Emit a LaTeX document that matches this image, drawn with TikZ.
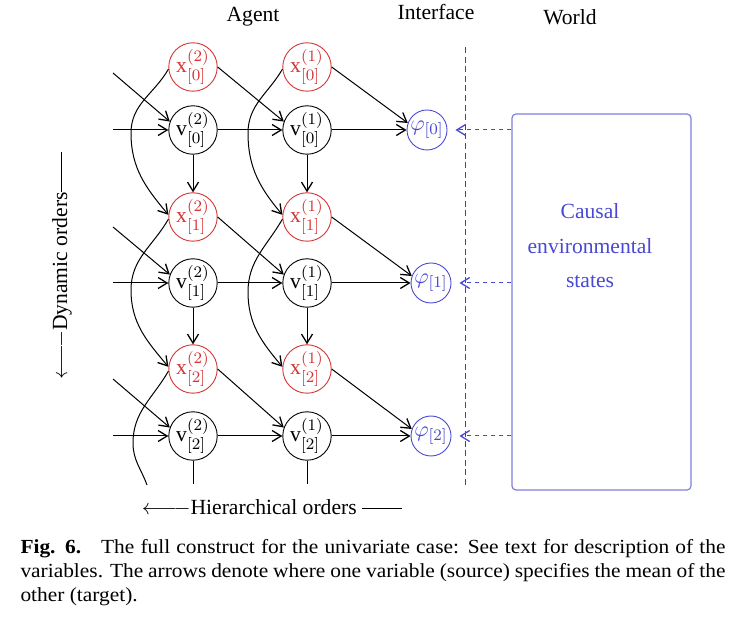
\documentclass[tikz,border=0pt]{standalone}
\usepackage{fontspec}
\setmainfont{Liberation Serif}
\newfontfamily\capfont[FakeStretch=1.07]{Liberation Serif}
\usetikzlibrary{arrows.meta}
\definecolor{xred}{RGB}{212,52,52}
\definecolor{phiblue}{RGB}{72,72,212}
\definecolor{worldblue}{RGB}{128,128,222}
\tikzset{
	unit/.style={circle,draw,minimum size=20pt,inner sep=0pt,line width=0.45pt},
	hidden/.style={unit,draw=xred,text=xred},
	cause/.style={unit},
	sense/.style={unit,draw=phiblue,text=phiblue},
	arr/.style={-{Straight Barb[length=4.5pt,width=5.5pt,line width=0.65pt]}},
	worldarr/.style={arr,phiblue,dash pattern=on 2pt off 2pt,shorten >=4pt},
	heading/.style={inner sep=0pt},
}
\begin{document}
\begin{tikzpicture}[x=0.5pt,y=-0.5pt,line width=0.5pt,font=\fontsize{10.8}{13}\selectfont]
	\useasboundingbox (0,0) rectangle (733,619);
	\node[heading] (agent) at (253,17) {Agent};
	\node[heading] (iface) at (436,12) {Interface};
	\node[heading] (worldtitle) at (570,17) {World};

	\node[hidden] (x20) at (193,67) {$\mathrm{x}^{(2)}_{[0]}$};
	\node[hidden] (x10) at (307,67) {$\mathrm{x}^{(1)}_{[0]}$};
	\node[cause] (v20) at (193,130) {$\mathrm{v}^{(2)}_{[0]}$};
	\node[cause] (v10) at (307,130) {$\mathrm{v}^{(1)}_{[0]}$};
	\node[sense] (p0) at (427,130) {$\varphi_{[0]}$};
	\node[hidden] (x21) at (193,217) {$\mathrm{x}^{(2)}_{[1]}$};
	\node[hidden] (x11) at (307,217) {$\mathrm{x}^{(1)}_{[1]}$};
	\node[cause] (v21) at (193,283) {$\mathrm{v}^{(2)}_{[1]}$};
	\node[cause] (v11) at (307,283) {$\mathrm{v}^{(1)}_{[1]}$};
	\node[sense] (p1) at (431,283) {$\varphi_{[1]}$};
	\node[hidden] (x22) at (193,369) {$\mathrm{x}^{(2)}_{[2]}$};
	\node[hidden] (x12) at (307,369) {$\mathrm{x}^{(1)}_{[2]}$};
	\node[cause] (v22) at (193,436) {$\mathrm{v}^{(2)}_{[2]}$};
	\node[cause] (v12) at (307,436) {$\mathrm{v}^{(1)}_{[2]}$};
	\node[sense] (p2) at (431,436) {$\varphi_{[2]}$};

	\node[draw=worldblue,line width=0.6pt,rounded corners=2pt,minimum width=89.5pt,minimum height=188pt] (world) at (601.5,302) {};
	\node[text=phiblue,align=center,font=\fontsize{10.8}{17.25}\selectfont] (causes) at (590,246) {Causal\\environmental\\states};

	\coordinate (in0x) at (113,73);
	\coordinate (in0v) at (113,130);
	\coordinate (in1x) at (113,227);
	\coordinate (in1v) at (113,283);
	\coordinate (in2x) at (113,379);
	\coordinate (in2v) at (113,436);
	\coordinate (bend20) at (131,133);
	\coordinate (bend21) at (131,290);
	\coordinate (bend22) at (133,443);
	\coordinate (bend10) at (248,133);
	\coordinate (bend11) at (248,292);
	\coordinate (tail2) at (147,485);
	\coordinate (stub2) at (193,484);
	\coordinate (stub1) at (307,484);
	\coordinate (ifacetop) at (465,47);
	\coordinate (ifacebot) at (465,485);

	\draw[arr] (in0x) -- (v20.160);
	\draw[arr] (in0v) -- (v20);
	\draw[arr] (x20.east) -- (v10.160);
	\draw[arr] (v20) -- (v10);
	\draw[arr] (x10.east) -- (p0.160);
	\draw[arr] (v10) -- (p0);
	\draw[arr] (v20) -- (x21);
	\draw[arr] (v10) -- (x11);

	\draw[arr] (in1x) -- (v21.160);
	\draw[arr] (in1v) -- (v21);
	\draw[arr] (x21.east) -- (v11.160);
	\draw[arr] (v21) -- (v11);
	\draw[arr] (x11.east) -- (p1.160);
	\draw[arr] (v11) -- (p1);
	\draw[arr] (v21) -- (x22);
	\draw[arr] (v11) -- (x12);

	\draw[arr] (in2x) -- (v22.160);
	\draw[arr] (in2v) -- (v22);
	\draw[arr] (x22.east) -- (v12.160);
	\draw[arr] (v22) -- (v12);
	\draw[arr] (x12.east) -- (p2.160);
	\draw[arr] (v12) -- (p2);
	\draw (v22) -- (stub2);
	\draw (v12) -- (stub1);

	\draw[arr] (x20.185) to[out=240,in=90] (bend20) to[out=-90,in=130] (x21.175);
	\draw[arr] (x21.185) to[out=240,in=90] (bend21) to[out=-90,in=130] (x22.175);
	\draw (x22.185) to[out=240,in=90] (bend22) to[out=-90,in=110] (tail2);
	\draw[arr] (x10.185) to[out=240,in=90] (bend10) to[out=-90,in=130] (x11.175);
	\draw[arr] (x11.185) to[out=240,in=90] (bend11) to[out=-90,in=130] (x12.175);

	\draw[black!70,dash pattern=on 3pt off 1.8pt] (ifacetop) -- (ifacebot);
	\draw[worldarr] (world.west |- p0) -- (p0);
	\draw[worldarr] (world.west |- p1) -- (p1);
	\draw[worldarr] (world.west |- p2) -- (p2);

	\node[heading,rotate=90] (dynamic) at (62,266) {$\longleftarrow\joinrel\relbar$Dynamic orders\rule[2.6pt]{20pt}{0.45pt}};
	\node[heading] (hierarchical) at (272,507) {$\longleftarrow\joinrel\relbar$Hierarchical orders \rule[2.6pt]{20pt}{0.45pt}};

	\node[anchor=north west,inner sep=0pt,text width=352.5pt,align=justify,font=\capfont\fontsize{10}{12}\selectfont] (caption) at (20,539) {\textbf{Fig. 6.}\quad The full construct for the univariate case: See text for description of the\linebreak variables. The arrows denote where one variable (source) specifies the mean of the\linebreak other (target).};
\end{tikzpicture}
\end{document}
